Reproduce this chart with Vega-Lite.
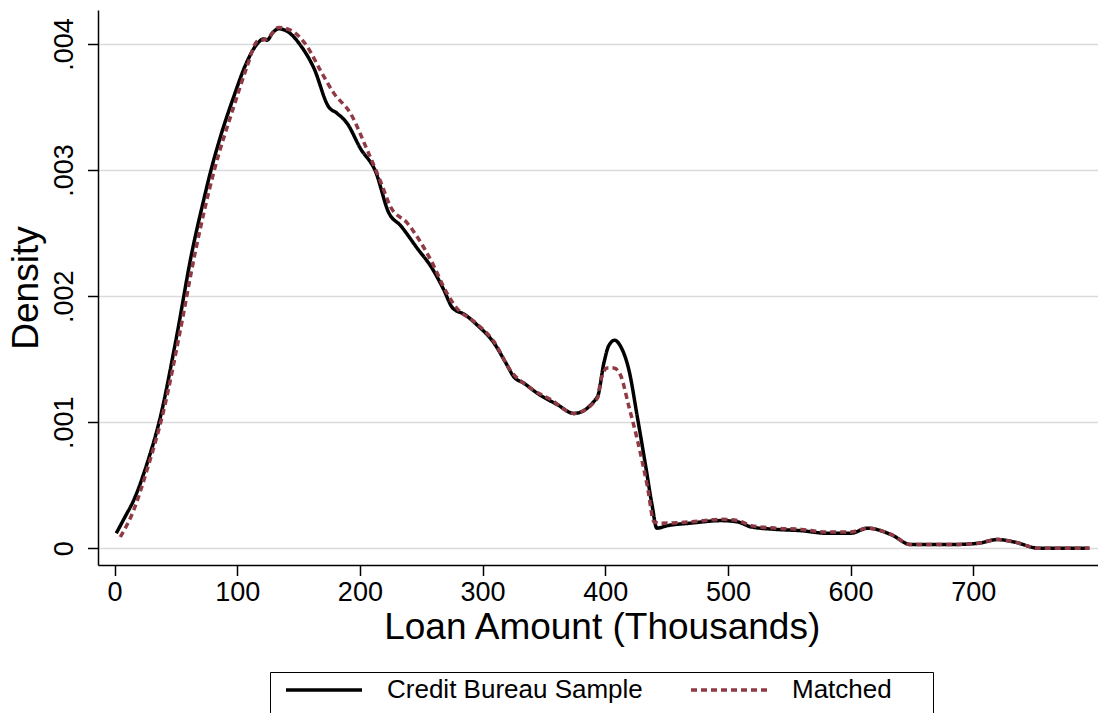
{
  "$schema": "https://vega.github.io/schema/vega-lite/v6.json",
  "width": 1000,
  "height": 555,
  "autosize": "none",
  "padding": {"left": 98, "top": 10, "right": 0, "bottom": 148},
  "background": "white",
  "config": {"font": "Liberation Sans", "view": {"stroke": null}},
  "datasets": {
    "density": [
      {"series": "Credit Bureau Sample", "amount": 1.4, "density": 0.00012},
      {"series": "Credit Bureau Sample", "amount": 8, "density": 0.00024},
      {"series": "Credit Bureau Sample", "amount": 15.5, "density": 0.00038},
      {"series": "Credit Bureau Sample", "amount": 26.4, "density": 0.00067},
      {"series": "Credit Bureau Sample", "amount": 37.3, "density": 0.00104},
      {"series": "Credit Bureau Sample", "amount": 50, "density": 0.00165},
      {"series": "Credit Bureau Sample", "amount": 63.1, "density": 0.00235},
      {"series": "Credit Bureau Sample", "amount": 72.6, "density": 0.00276},
      {"series": "Credit Bureau Sample", "amount": 78.1, "density": 0.00298},
      {"series": "Credit Bureau Sample", "amount": 86.2, "density": 0.00326},
      {"series": "Credit Bureau Sample", "amount": 97.1, "density": 0.00358},
      {"series": "Credit Bureau Sample", "amount": 108, "density": 0.00386},
      {"series": "Credit Bureau Sample", "amount": 116.2, "density": 0.004},
      {"series": "Credit Bureau Sample", "amount": 121.6, "density": 0.00404},
      {"series": "Credit Bureau Sample", "amount": 124.3, "density": 0.00403},
      {"series": "Credit Bureau Sample", "amount": 129, "density": 0.00409},
      {"series": "Credit Bureau Sample", "amount": 133.8, "density": 0.00412},
      {"series": "Credit Bureau Sample", "amount": 140.7, "density": 0.0041},
      {"series": "Credit Bureau Sample", "amount": 151.5, "density": 0.00399},
      {"series": "Credit Bureau Sample", "amount": 162.4, "density": 0.00381},
      {"series": "Credit Bureau Sample", "amount": 174.6, "density": 0.0035},
      {"series": "Credit Bureau Sample", "amount": 181.4, "density": 0.00345},
      {"series": "Credit Bureau Sample", "amount": 189.6, "density": 0.00337},
      {"series": "Credit Bureau Sample", "amount": 200.5, "density": 0.00317},
      {"series": "Credit Bureau Sample", "amount": 212.7, "density": 0.00299},
      {"series": "Credit Bureau Sample", "amount": 223.6, "density": 0.00266},
      {"series": "Credit Bureau Sample", "amount": 233.1, "density": 0.00256},
      {"series": "Credit Bureau Sample", "amount": 246.7, "density": 0.00238},
      {"series": "Credit Bureau Sample", "amount": 258.9, "density": 0.00222},
      {"series": "Credit Bureau Sample", "amount": 268.4, "density": 0.00205},
      {"series": "Credit Bureau Sample", "amount": 275.3, "density": 0.00191},
      {"series": "Credit Bureau Sample", "amount": 286.1, "density": 0.00185},
      {"series": "Credit Bureau Sample", "amount": 295.7, "density": 0.00177},
      {"series": "Credit Bureau Sample", "amount": 309.2, "density": 0.00163},
      {"series": "Credit Bureau Sample", "amount": 319, "density": 0.00147},
      {"series": "Credit Bureau Sample", "amount": 325.5, "density": 0.00136},
      {"series": "Credit Bureau Sample", "amount": 333.7, "density": 0.00131},
      {"series": "Credit Bureau Sample", "amount": 344.6, "density": 0.00123},
      {"series": "Credit Bureau Sample", "amount": 360.9, "density": 0.00114},
      {"series": "Credit Bureau Sample", "amount": 374.5, "density": 0.00107},
      {"series": "Credit Bureau Sample", "amount": 393.6, "density": 0.0012},
      {"series": "Credit Bureau Sample", "amount": 398.9, "density": 0.00147},
      {"series": "Credit Bureau Sample", "amount": 403, "density": 0.00161},
      {"series": "Credit Bureau Sample", "amount": 407.7, "density": 0.00165},
      {"series": "Credit Bureau Sample", "amount": 412.6, "density": 0.0016},
      {"series": "Credit Bureau Sample", "amount": 419.4, "density": 0.00141},
      {"series": "Credit Bureau Sample", "amount": 426.2, "density": 0.00104},
      {"series": "Credit Bureau Sample", "amount": 433, "density": 0.00065},
      {"series": "Credit Bureau Sample", "amount": 438.4, "density": 0.00033},
      {"series": "Credit Bureau Sample", "amount": 442, "density": 0.00016},
      {"series": "Credit Bureau Sample", "amount": 450.7, "density": 0.00018},
      {"series": "Credit Bureau Sample", "amount": 469.7, "density": 0.0002},
      {"series": "Credit Bureau Sample", "amount": 494.2, "density": 0.00022},
      {"series": "Credit Bureau Sample", "amount": 507.8, "density": 0.00021},
      {"series": "Credit Bureau Sample", "amount": 519, "density": 0.00017},
      {"series": "Credit Bureau Sample", "amount": 540, "density": 0.00015},
      {"series": "Credit Bureau Sample", "amount": 560, "density": 0.00014},
      {"series": "Credit Bureau Sample", "amount": 580, "density": 0.00012},
      {"series": "Credit Bureau Sample", "amount": 600.1, "density": 0.00012},
      {"series": "Credit Bureau Sample", "amount": 613.9, "density": 0.00016},
      {"series": "Credit Bureau Sample", "amount": 632.9, "density": 0.00011},
      {"series": "Credit Bureau Sample", "amount": 649.2, "density": 0.00003},
      {"series": "Credit Bureau Sample", "amount": 681.8, "density": 0.00003},
      {"series": "Credit Bureau Sample", "amount": 703.6, "density": 0.00004},
      {"series": "Credit Bureau Sample", "amount": 719.9, "density": 0.00007},
      {"series": "Credit Bureau Sample", "amount": 733.5, "density": 0.00005},
      {"series": "Credit Bureau Sample", "amount": 753.9, "density": 0},
      {"series": "Credit Bureau Sample", "amount": 794.7, "density": 0},
      {"series": "Matched", "amount": 4.7, "density": 0.00009},
      {"series": "Matched", "amount": 15.5, "density": 0.0003},
      {"series": "Matched", "amount": 26.4, "density": 0.00062},
      {"series": "Matched", "amount": 41.4, "density": 0.00115},
      {"series": "Matched", "amount": 53, "density": 0.0017},
      {"series": "Matched", "amount": 65.8, "density": 0.00235},
      {"series": "Matched", "amount": 80.8, "density": 0.00298},
      {"series": "Matched", "amount": 97.1, "density": 0.0035},
      {"series": "Matched", "amount": 108, "density": 0.00382},
      {"series": "Matched", "amount": 116.2, "density": 0.00402},
      {"series": "Matched", "amount": 124.3, "density": 0.00404},
      {"series": "Matched", "amount": 133.8, "density": 0.00413},
      {"series": "Matched", "amount": 143.3, "density": 0.00411},
      {"series": "Matched", "amount": 157, "density": 0.00398},
      {"series": "Matched", "amount": 167.8, "density": 0.00379},
      {"series": "Matched", "amount": 178.7, "density": 0.00361},
      {"series": "Matched", "amount": 192.3, "density": 0.00345},
      {"series": "Matched", "amount": 205.9, "density": 0.00316},
      {"series": "Matched", "amount": 216.8, "density": 0.00291},
      {"series": "Matched", "amount": 224.9, "density": 0.00271},
      {"series": "Matched", "amount": 238.6, "density": 0.00258},
      {"series": "Matched", "amount": 257.6, "density": 0.00229},
      {"series": "Matched", "amount": 271.2, "density": 0.00202},
      {"series": "Matched", "amount": 279.4, "density": 0.0019},
      {"series": "Matched", "amount": 292.9, "density": 0.0018},
      {"series": "Matched", "amount": 309.2, "density": 0.00164},
      {"series": "Matched", "amount": 322.8, "density": 0.00141},
      {"series": "Matched", "amount": 339.1, "density": 0.00127},
      {"series": "Matched", "amount": 355.5, "density": 0.00118},
      {"series": "Matched", "amount": 374.5, "density": 0.00107},
      {"series": "Matched", "amount": 393.6, "density": 0.00119},
      {"series": "Matched", "amount": 396.3, "density": 0.00133},
      {"series": "Matched", "amount": 401.7, "density": 0.00143},
      {"series": "Matched", "amount": 407.1, "density": 0.00143},
      {"series": "Matched", "amount": 412.6, "density": 0.00137},
      {"series": "Matched", "amount": 419.4, "density": 0.00112},
      {"series": "Matched", "amount": 426.2, "density": 0.00086},
      {"series": "Matched", "amount": 434.4, "density": 0.00049},
      {"series": "Matched", "amount": 439.8, "density": 0.00021},
      {"series": "Matched", "amount": 445.2, "density": 0.0002},
      {"series": "Matched", "amount": 469.7, "density": 0.00021},
      {"series": "Matched", "amount": 494.2, "density": 0.00023},
      {"series": "Matched", "amount": 507.8, "density": 0.00022},
      {"series": "Matched", "amount": 519, "density": 0.00018},
      {"series": "Matched", "amount": 540, "density": 0.00016},
      {"series": "Matched", "amount": 560, "density": 0.00015},
      {"series": "Matched", "amount": 580, "density": 0.00013},
      {"series": "Matched", "amount": 600.1, "density": 0.00013},
      {"series": "Matched", "amount": 613.9, "density": 0.00016},
      {"series": "Matched", "amount": 632.9, "density": 0.00011},
      {"series": "Matched", "amount": 649.2, "density": 0.00003},
      {"series": "Matched", "amount": 681.8, "density": 0.00003},
      {"series": "Matched", "amount": 703.6, "density": 0.00004},
      {"series": "Matched", "amount": 719.9, "density": 0.00007},
      {"series": "Matched", "amount": 733.5, "density": 0.00005},
      {"series": "Matched", "amount": 753.9, "density": 0},
      {"series": "Matched", "amount": 794.7, "density": 0}
    ]
  },
  "data": {"name": "density"},
  "mark": {"type": "line", "interpolate": "monotone", "strokeWidth": 3.5},
  "encoding": {
    "x": {
      "field": "amount",
      "type": "quantitative",
      "scale": {"domain": [-13.5, 801.7], "nice": false, "zero": false},
      "axis": {
        "values": [0, 100, 200, 300, 400, 500, 600, 700],
        "grid": false,
        "domainColor": "black",
        "domainWidth": 1.5,
        "tickColor": "black",
        "tickWidth": 1.5,
        "tickSize": 10.5,
        "labelFontSize": 27,
        "labelColor": "black",
        "labelPadding": 4,
        "labelFlush": false,
        "title": "Loan Amount (Thousands)",
        "titleFontSize": 37,
        "titleFontWeight": "normal",
        "titleColor": "black",
        "titleX": 503.7,
        "titleY": 73,
        "titleAlign": "center",
        "titleBaseline": "alphabetic"
      }
    },
    "y": {
      "field": "density",
      "type": "quantitative",
      "scale": {"domain": [-0.000132, 0.004269], "nice": false, "zero": false},
      "axis": {
        "values": [0, 0.001, 0.002, 0.003, 0.004],
        "labelExpr": "datum.value == 0 ? '0' : substring(format(datum.value, '.3f'), 1)",
        "grid": true,
        "gridColor": "#DADADA",
        "gridWidth": 1.5,
        "domainColor": "black",
        "domainWidth": 1.5,
        "tickColor": "black",
        "tickWidth": 1.5,
        "tickSize": 10.5,
        "labelAngle": -90,
        "labelAlign": "center",
        "labelBaseline": "alphabetic",
        "labelPadding": 15,
        "labelFontSize": 27,
        "labelColor": "black",
        "labelFlush": false,
        "title": "Density",
        "titleFontSize": 37,
        "titleFontWeight": "normal",
        "titleColor": "black",
        "titleAngle": -90,
        "titleX": -60.5,
        "titleY": 277.5,
        "titleAlign": "center",
        "titleBaseline": "alphabetic"
      }
    },
    "color": {
      "field": "series",
      "type": "nominal",
      "scale": {"domain": ["Credit Bureau Sample", "Matched"], "range": ["#000000", "#8F3A44"]},
      "legend": {
        "orient": "none",
        "legendX": 172,
        "legendY": 662,
        "direction": "horizontal",
        "title": " ",
        "titleOrient": "right",
        "titleFontSize": 60,
        "titlePadding": 36,
        "strokeColor": "black",
        "padding": 5,
        "symbolType": "M-0.2,0H7.4",
        "symbolSize": 400,
        "symbolStrokeWidth": 3.5,
        "labelFontSize": 26,
        "labelColor": "black",
        "labelOffset": 86,
        "labelLimit": 400,
        "columnPadding": 37
      }
    },
    "strokeDash": {
      "field": "series",
      "type": "nominal",
      "scale": {"domain": ["Credit Bureau Sample", "Matched"], "range": [[1, 0], [6, 4]]},
      "legend": {
        "orient": "none",
        "legendX": 172,
        "legendY": 662,
        "direction": "horizontal",
        "title": " ",
        "titleOrient": "right",
        "titleFontSize": 60,
        "titlePadding": 36,
        "strokeColor": "black",
        "padding": 5,
        "symbolType": "M-0.2,0H7.4",
        "symbolSize": 400,
        "symbolStrokeWidth": 3.5,
        "labelFontSize": 26,
        "labelColor": "black",
        "labelOffset": 86,
        "labelLimit": 400,
        "columnPadding": 37
      }
    }
  }
}
